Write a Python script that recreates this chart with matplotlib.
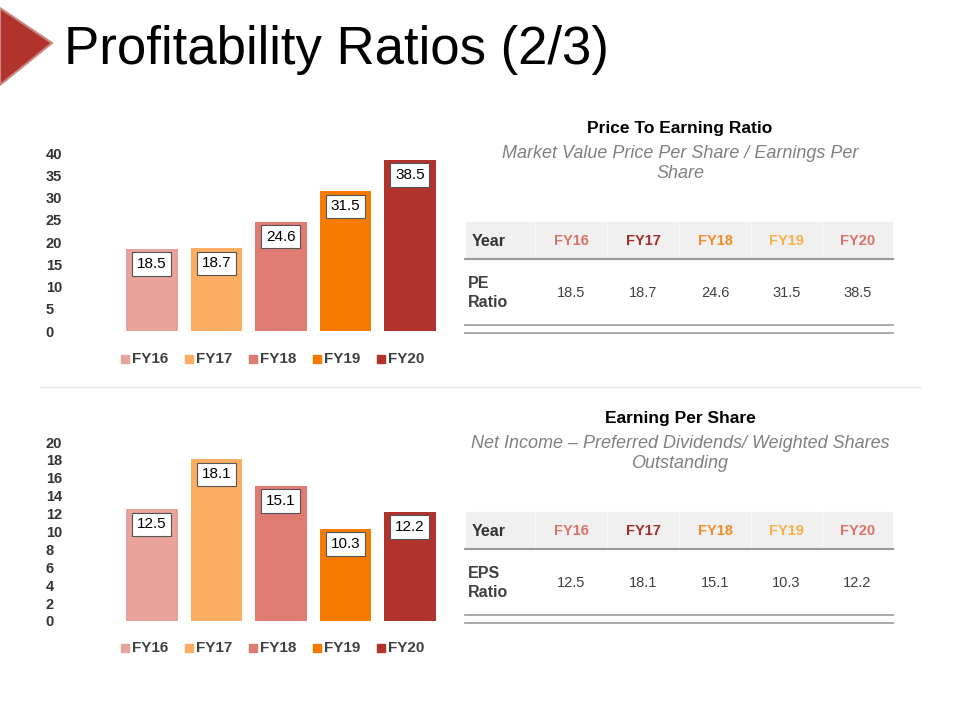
import matplotlib.pyplot as plt
from matplotlib.patches import Rectangle, Polygon

plt.rcParams["font.family"] = "Liberation Sans"

years = ["FY16", "FY17", "FY18", "FY19", "FY20"]
pe_ratio = [18.5, 18.7, 24.6, 31.5, 38.5]
eps_ratio = [12.5, 18.1, 15.1, 10.3, 12.2]
pe_ticks = [0, 5, 10, 15, 20, 25, 30, 35, 40]
eps_ticks = [0, 2, 4, 6, 8, 10, 12, 14, 16, 18, 20]

bar_colors = ["#E8A39B", "#FBAE62", "#E07B74", "#F57C00", "#B0342C"]
head_colors = ["#D9736A", "#A0302B", "#F28C28", "#F9B04A", "#D9736A"]

fig = plt.figure(figsize=(9.6, 7.2), dpi=100)

# full-figure overlay in pixel coords
ov = fig.add_axes([0, 0, 1, 1])
ov.set_xlim(0, 960)
ov.set_ylim(720, 0)
ov.axis("off")

ov.add_patch(Polygon([[0, 8], [52, 43], [0, 85]], closed=True,
                     facecolor="#B0342C", edgecolor="#C98A85", lw=1.5))
ov.text(64, 50, "Profitability Ratios (2/3)", fontsize=38, va="center",
        ha="left", color="black")
ov.plot([40, 920], [387, 387], color="#E6E6E6", lw=1)


def bar_chart(rect, values, ticks, legend_y):
    ax = fig.add_axes(rect)
    x = range(len(years))
    ax.bar(x, values, width=0.8, color=bar_colors)
    top = ticks[-1]
    for i, v in enumerate(values):
        ax.text(i, v - top * 0.085, f"{v}", ha="center", va="center", fontsize=11,
                bbox=dict(boxstyle="square,pad=0.3", fc="white", ec="#555555", lw=0.8))
    ax.set_ylim(0, top)
    ax.set_xlim(-0.524, 4.5)
    ax.set_yticks(ticks)
    ax.set_yticklabels([str(t) for t in ticks], fontsize=10.5, fontweight="bold", color="#333333")
    ax.set_xticks([])
    for s in ax.spines.values():
        s.set_visible(False)
    ax.tick_params(axis="y", length=0, pad=52)
    for lbl in ax.get_yticklabels():
        lbl.set_horizontalalignment("left")
    # legend in pixel coords
    xs = [121, 185, 249, 313, 377]
    for xi, yr, c in zip(xs, years, bar_colors):
        ov.add_patch(Rectangle((xi, legend_y - 4), 8, 8, color=c))
        ov.text(xi + 11, legend_y, yr, fontsize=11, fontweight="bold",
                color="#404040", va="center")


bar_chart([0.123, 0.540, 0.3375, 0.2472], pe_ratio, pe_ticks, 359)
bar_chart([0.123, 0.1375, 0.3375, 0.2486], eps_ratio, eps_ticks, 648)


def table(top, title, sub1, sub2, row_label, values):
    ov.text(680, top, title, ha="center", va="center", fontsize=12.5, fontweight="bold")
    ov.text(680, top + 24, sub1, ha="center", va="center", fontsize=13,
            style="italic", color="#808080")
    ov.text(680, top + 45, sub2, ha="center", va="center", fontsize=13,
            style="italic", color="#808080")
    h0 = top + 93
    col_x = [465, 535, 607, 679, 751, 822, 893]
    for i in range(6):
        ov.add_patch(Rectangle((col_x[i] + 1, h0), col_x[i + 1] - col_x[i] - 2, 37,
                               color="#F0F0F0"))
    ov.plot([465, 893], [h0 + 37, h0 + 37], color="#999999", lw=1.5)
    ov.text(472, h0 + 19, "Year", fontsize=11.5, fontweight="bold", va="center", color="#333333")
    for i, (yr, c) in enumerate(zip(years, head_colors)):
        cx = (col_x[i + 1] + col_x[i + 2]) / 2
        ov.text(cx, h0 + 19, yr, fontsize=10.5, fontweight="bold", ha="center",
                va="center", color=c)
        ov.text(cx, h0 + 71, f"{values[i]}", fontsize=10.5, ha="center",
                va="center", color="#404040")
    ov.text(468, h0 + 71, row_label, fontsize=11.5, fontweight="bold", va="center",
            color="#404040", linespacing=1.3)
    ov.plot([465, 893], [h0 + 103, h0 + 103], color="#999999", lw=1.2)
    ov.plot([465, 893], [h0 + 111, h0 + 111], color="#999999", lw=1.2)


table(129, "Price To Earning Ratio",
      "Market Value Price Per Share / Earnings Per", "Share", "PE\nRatio", pe_ratio)
table(419, "Earning Per Share",
      "Net Income \u2013 Preferred Dividends/ Weighted Shares", "Outstanding",
      "EPS\nRatio", eps_ratio)

fig.savefig("out.png", dpi=100)
